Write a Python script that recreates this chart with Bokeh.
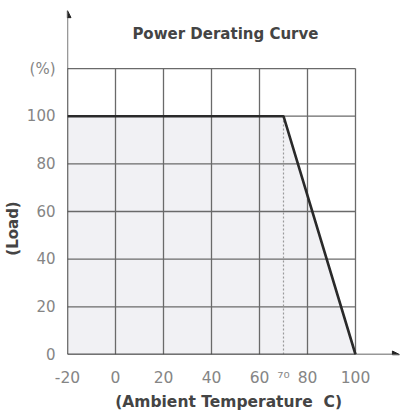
from bokeh.plotting import figure
from bokeh.models import Range1d, FixedTicker, Arrow, NormalHead, Label
from bokeh.embed import file_html
from bokeh.resources import INLINE

# ---- data ----
temps = [-20, 70, 100]
load = [100, 100, 0]
x_ticks = [-20, 0, 20, 40, 60, 80, 100]
y_ticks = [0, 20, 40, 60, 80, 100, 120]
x_tick_overrides = {-20: "-20", 70: "\u2077\u2070"}
y_tick_overrides = {120: "(%)"}
derate_start = 70
title_text = "Power Derating Curve"
x_title = "(Ambient Temperature \u00a0C)"
y_title = "(Load)"

FONT = "DejaVu Sans"
GRID = "#6a6a6a"
NBSP = "\u00a0"

x_lo, x_hi = x_ticks[0], x_ticks[-1]
y_lo, y_hi = y_ticks[0], y_ticks[-1]

p = figure(frame_width=333, frame_height=346,
           x_range=Range1d(x_lo, 118.75), y_range=Range1d(y_lo, 145.2),
           output_backend="svg", toolbar_location=None,
           min_border_left=62, min_border_top=8,
           min_border_right=0, min_border_bottom=52)

p.background_fill_color = "white"
p.border_fill_color = "white"
p.outline_line_color = None
p.xgrid.visible = False
p.ygrid.visible = False

# axes (tick labels only; axis lines drawn as arrows)
p.xaxis.ticker = FixedTicker(ticks=x_ticks + [derate_start])
p.yaxis.ticker = FixedTicker(ticks=y_ticks)
p.xaxis.major_label_overrides = x_tick_overrides
p.yaxis.major_label_overrides = y_tick_overrides
for ax in (p.xaxis, p.yaxis):
    ax.axis_line_color = None
    ax.major_tick_line_color = None
    ax.minor_tick_line_color = None
    ax.major_label_text_font = FONT
    ax.major_label_text_color = "#858585"
    ax.axis_label_text_font = FONT
    ax.axis_label_text_font_style = "bold"
    ax.axis_label_text_color = "#444444"
p.xaxis.major_label_text_font_size = "15.5px"
p.yaxis.major_label_text_font_size = "15px"
p.xaxis.axis_label_text_font_size = "15.5px"
p.yaxis.axis_label_text_font_size = "15px"
# trailing no-break spaces shift the centred labels towards the plot's centre
p.xaxis.axis_label = x_title + NBSP * 2
p.yaxis.axis_label = y_title + NBSP * 18
p.xaxis.major_label_standoff = 8
p.yaxis.major_label_standoff = 6
p.xaxis.axis_label_standoff = 3
p.yaxis.axis_label_standoff = 2

# fill under the curve
fill = p.varea(x=temps, y1=[0] * len(temps), y2=load, fill_color="#f1f1f4")
fill.level = "image"

# grid lines
p.segment(x0=x_ticks, y0=[y_lo] * len(x_ticks), x1=x_ticks, y1=[y_hi] * len(x_ticks),
          line_color=GRID, line_width=1.3)
p.segment(x0=[x_lo] * len(y_ticks), y0=y_ticks, x1=[x_hi] * len(y_ticks), y1=y_ticks,
          line_color=GRID, line_width=1.3)

# derating start marker
p.line(x=[derate_start, derate_start], y=[0, 100], line_color="#9a9a9a",
       line_width=1.2, line_dash="2 2")

# curve
p.line(x=temps, y=load, line_color="#2a2a2a", line_width=2.6)

# axis arrows
p.add_layout(Arrow(x_start=x_lo, y_start=y_lo, x_end=x_lo, y_end=144.3,
                   line_color="#333333", line_width=1.3,
                   end=NormalHead(size=7, fill_color="#222222", line_color="#222222")))
p.add_layout(Arrow(x_start=x_lo, y_start=y_lo, x_end=118.3, y_end=y_lo,
                   line_color="#333333", line_width=1.3,
                   end=NormalHead(size=7, fill_color="#222222", line_color="#222222")))

# title
p.add_layout(Label(x=45.8, y=134.7, text=title_text, text_font=FONT,
                   text_font_size="15px", text_font_style="bold",
                   text_color="#444444", text_align="center",
                   text_baseline="middle"))

open("out.html", "w").write(file_html(p, INLINE))
